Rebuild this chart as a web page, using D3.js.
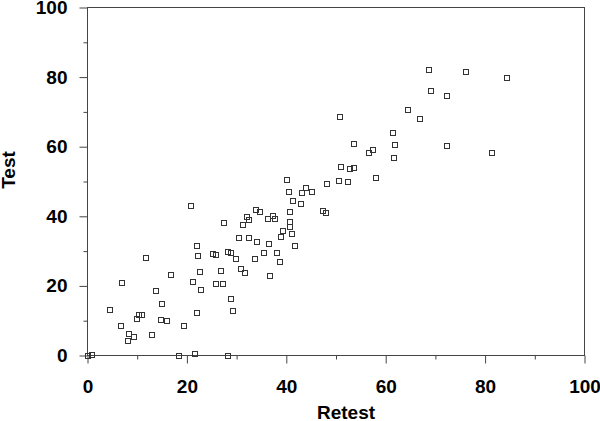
<!DOCTYPE html>
<html>
<head>
<meta charset="utf-8">
<script src="https://cdn.jsdelivr.net/npm/d3@7"></script>
<style>
  body { margin: 0; background: #fff; }
  text { font-family: "Liberation Sans", Arial, sans-serif; font-weight: bold; fill: #000; }
</style>
</head>
<body>
<svg id="chart" width="600" height="421"></svg>
<script>
// Retest values (x) and Test values (y)
var retest = [0, 0.8, 18.3, 21.6, 28.2, 8.0, 8.3, 9.2, 12.8, 6.6,
	19.4, 9.8, 10.2, 10.9, 14.7, 15.9, 4.5, 14.9, 22.0, 29.2,
	28.7, 13.7, 22.7, 6.9, 21.1, 25.8, 27.1, 16.7, 22.5, 26.7,
	30.7, 31.5, 36.7, 29.8, 33.7, 38.6, 28.7, 28.2, 35.5, 38.0,
	25.2, 25.7, 22.1, 11.7, 22.0, 30.3, 32.3, 34.0, 36.4, 41.6,
	27.4, 31.1, 32.0, 32.3, 36.2, 37.2, 37.7, 33.8, 34.6, 40.7,
	40.7, 39.2, 38.8, 41.1, 20.8, 41.2, 42.9, 40.7, 47.2, 47.8,
	40.4, 40.0, 43.0, 43.8, 45.1, 48.1, 50.5, 52.3, 50.9, 52.7,
	53.6, 58.0, 53.6, 56.6, 57.4, 50.7, 61.3, 61.7, 61.6, 64.3,
	66.9, 68.7, 69.1, 72.2, 72.2, 76.1, 81.3, 84.3];
var test = [0, 0.3, 0.1, 0.5, 0.1, 4.4, 6.2, 5.5, 6.1, 8.5,
	8.7, 10.6, 11.7, 11.7, 10.4, 10.2, 13.3, 14.9, 12.4, 12.9,
	16.3, 18.7, 18.9, 20.9, 21.4, 20.7, 20.7, 23.2, 24.1, 24.5,
	25.1, 23.9, 22.9, 27.8, 28.0, 27.0, 29.6, 30.0, 29.5, 29.6,
	29.3, 29.1, 28.7, 28.2, 31.7, 33.8, 33.9, 32.9, 32.3, 31.5,
	38.2, 37.6, 39.8, 39.1, 39.3, 40.3, 39.4, 42.0, 41.5, 38.4,
	37.2, 35.9, 34.2, 35.0, 43.0, 44.5, 43.7, 41.5, 41.8, 41.1,
	47.0, 50.6, 46.7, 48.3, 47.2, 49.3, 50.4, 50.0, 54.4, 53.6,
	54.0, 51.2, 60.9, 58.3, 59.2, 68.8, 64.0, 60.6, 57.0, 70.7,
	68.0, 82.3, 76.2, 74.6, 60.3, 81.6, 58.3, 79.8];

var majorTicks = [0, 20, 40, 60, 80, 100];
var minorTicks = [10, 30, 50, 70, 90];

var AXIS_COLOR = "#444";
var LEFT = 87.5, RIGHT = 584.5, TOP = 7.5, BOTTOM = 355.5;

var svg = d3.select("#chart");

var x = d3.scaleLinear().domain([0, 100]).range([LEFT, RIGHT]);
var y = d3.scaleLinear().domain([0, 100]).range([BOTTOM, TOP]);

// frame
svg.append("rect")
	.attr("x", LEFT)
	.attr("y", TOP)
	.attr("width", RIGHT - LEFT)
	.attr("height", BOTTOM - TOP)
	.attr("fill", "none")
	.attr("stroke", AXIS_COLOR)
	.attr("stroke-width", 1);

// bottom axis, major and minor ticks
var xAxis = svg.append("g")
	.attr("transform", "translate(0," + BOTTOM + ")")
	.call(d3.axisBottom(x).tickValues(majorTicks).tickSize(8).tickPadding(16).tickFormat(d3.format("d")));
svg.append("g")
	.attr("transform", "translate(0," + BOTTOM + ")")
	.call(d3.axisBottom(x).tickValues(minorTicks).tickSize(4).tickFormat(""));

// left axis, major and minor ticks
var yAxis = svg.append("g")
	.attr("transform", "translate(" + LEFT + ",0)")
	.call(d3.axisLeft(y).tickValues(majorTicks).tickSize(8).tickPadding(12).tickFormat(d3.format("d")));
svg.append("g")
	.attr("transform", "translate(" + LEFT + ",0)")
	.call(d3.axisLeft(y).tickValues(minorTicks).tickSize(4).tickFormat(""));

svg.selectAll(".domain").remove();
svg.selectAll(".tick line").attr("stroke", AXIS_COLOR);
svg.selectAll(".tick text")
	.attr("font-size", "19px")
	.attr("font-family", "Liberation Sans, Arial, sans-serif")
	.attr("font-weight", "bold")
	.attr("fill", "#000");

// axis titles
svg.append("text")
	.attr("x", 346)
	.attr("y", 419)
	.attr("text-anchor", "middle")
	.attr("font-size", "19px")
	.text("Retest");
svg.append("text")
	.attr("transform", "translate(15,170) rotate(-90)")
	.attr("text-anchor", "middle")
	.attr("font-size", "19px")
	.text("Test");

// points: small open squares
var S = 5;
svg.append("g")
	.selectAll("rect")
	.data(d3.range(retest.length))
	.enter()
	.append("rect")
	.attr("x", function(i) { return Math.round(x(retest[i]) - S / 2) + 0.5; })
	.attr("y", function(i) { return Math.round(y(test[i]) - S / 2) + 0.5; })
	.attr("width", S)
	.attr("height", S)
	.attr("fill", "none")
	.attr("stroke", "#333")
	.attr("stroke-width", 1);
</script>
</body>
</html>
